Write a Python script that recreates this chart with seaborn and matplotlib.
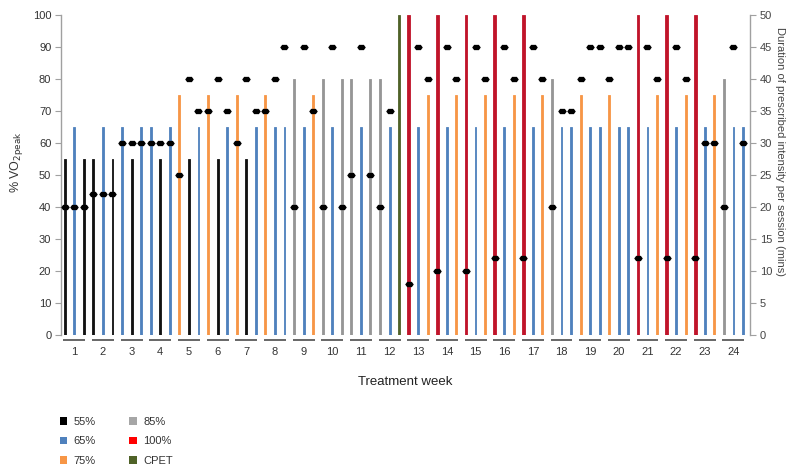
import matplotlib
matplotlib.use("Agg")
import matplotlib.pyplot as plt
from matplotlib.patches import Patch
import pandas as pd
import seaborn as sns

# 24 treatment weeks, 3 sessions per week
weeks = list(range(1, 25))

# Prescribed intensity of every session (week by week)
intensity = [
    "55%", "65%", "55%",    # 1
    "55%", "65%", "55%",    # 2
    "65%", "55%", "65%",    # 3
    "65%", "55%", "65%",    # 4
    "75%", "55%", "65%",    # 5
    "75%", "55%", "65%",    # 6
    "75%", "55%", "65%",    # 7
    "75%", "65%", "65%",    # 8
    "85%", "65%", "75%",    # 9
    "85%", "65%", "85%",    # 10
    "85%", "65%", "85%",    # 11
    "85%", "65%", "CPET",   # 12
    "100%", "65%", "75%",   # 13
    "100%", "65%", "75%",   # 14
    "100%", "65%", "75%",   # 15
    "100%", "65%", "75%",   # 16
    "100%", "65%", "75%",   # 17
    "85%", "65%", "65%",    # 18
    "75%", "65%", "65%",    # 19
    "75%", "65%", "65%",    # 20
    "100%", "65%", "75%",   # 21
    "100%", "65%", "75%",   # 22
    "100%", "65%", "75%",   # 23
    "85%", "65%", "65%",    # 24
]

# Duration at prescribed intensity (mins), None where no dot
duration = [
    20, 20, 20,
    22, 22, 22,
    30, 30, 30,
    30, 30, 30,
    25, 40, 35,
    35, 40, 35,
    30, 40, 35,
    35, 40, 45,
    20, 45, 35,
    20, 45, 20,
    25, 45, 25,
    20, 35, None,
    8, 45, 40,
    10, 45, 40,
    10, 45, 40,
    12, 45, 40,
    12, 45, 40,
    20, 35, 35,
    40, 45, 45,
    40, 45, 45,
    12, 45, 40,
    12, 45, 40,
    12, 30, 30,
    20, 45, 30,
]

# bar height (% VO2peak) drawn for each category
level = {"55%": 55, "65%": 65, "75%": 75, "85%": 80, "100%": 100, "CPET": 100}
legend_order = ["55%", "65%", "75%", "85%", "100%", "CPET"]

bar_colors = {"55%": "#111111", "65%": "#4f81bd", "75%": "#f79646",
              "85%": "#969696", "100%": "#c0142a", "CPET": "#4f6228"}
legend_colors = {"55%": "#000000", "65%": "#4f81bd", "75%": "#f79646",
                 "85%": "#a6a6a6", "100%": "#ff0000", "CPET": "#4f6228"}

df = pd.DataFrame({"session": range(len(intensity)), "intensity": intensity})
df["height"] = df["intensity"].map(level)
df["duration"] = pd.Series(duration, dtype="float")

sns.set_style("white")
plt.rcParams["font.family"] = ["Liberation Sans", "DejaVu Sans"]

fig = plt.figure(figsize=(8, 4.74), dpi=100)
ax = fig.add_axes([61 / 800, 1 - 335 / 474, 689 / 800, 320 / 474])

sns.barplot(data=df, x="session", y="height", hue="intensity", palette=bar_colors,
            hue_order=legend_order, native_scale=True, dodge=False, width=0.2,
            saturation=1, errorbar=None, legend=False, ax=ax)
# outline bars in their own colour so the thin bars stay crisp
red = matplotlib.colors.to_rgba(bar_colors["100%"])
for p in ax.patches:
    fc = p.get_facecolor()
    p.set_edgecolor(fc)
    p.set_linewidth(0.6)
    if all(abs(a - b) < 0.02 for a, b in zip(fc[:3], red[:3])):
        x0 = p.get_x() + p.get_width() / 2
        p.set_width(0.28)
        p.set_x(x0 - 0.14)

ax.set_xlim(-0.39, 71.73)
ax.set_ylim(0, 100)
ax.set_yticks(range(0, 101, 10))
ax.set_xticks([3 * (w - 1) + 1 for w in weeks])
ax.set_xticklabels([str(w) for w in weeks])
ax.tick_params(axis="x", length=0, pad=8.5, labelsize=8, labelcolor="#333333")
ax.tick_params(axis="y", left=True, length=4, width=0.8, color="#a0a0a0",
               labelsize=8, labelcolor="#333333", pad=3)
for s in ["top", "right", "bottom"]:
    ax.spines[s].set_visible(False)
ax.spines["left"].set_color("#a0a0a0")
ax.spines["left"].set_linewidth(1.0)

# week underlines
for w in weeks:
    s0 = 3 * (w - 1)
    ax.plot([s0 - 0.15, s0 + 2.15], [-1.7, -1.7], color="#666666", lw=1.4,
            clip_on=False, solid_capstyle="butt")

ax.set_xlabel("Treatment week", fontsize=9.5, color="#222222", labelpad=14)
ax.set_ylabel(r"% VO$_{\mathrm{2peak}}$", fontsize=9, color="#333333")
ax.yaxis.set_label_coords(-0.052, 0.54)

ax2 = ax.twinx()
hexo = [(-1, 0), (-0.55, 0.62), (0.55, 0.62), (1, 0), (0.55, -0.62), (-0.55, -0.62), (-1, 0)]
sns.scatterplot(data=df.dropna(subset=["duration"]), x="session", y="duration",
                color="black", marker=hexo, s=38, linewidth=0, ax=ax2, zorder=3)
ax2.set_ylim(0, 50)
ax2.set_xlim(-0.39, 71.73)
ax2.set_yticks(range(0, 51, 5))
ax2.tick_params(axis="y", right=True, length=4, width=0.8, color="#a0a0a0",
                labelsize=8, labelcolor="#444444", pad=3)
for s in ["top", "left", "bottom"]:
    ax2.spines[s].set_visible(False)
ax2.spines["right"].set_color("#a0a0a0")
ax2.spines["right"].set_linewidth(1.0)
ax2.set_ylabel("Duration of prescribed intensity per session (mins)", fontsize=8,
               color="#444444", rotation=270, va="bottom")
ax2.yaxis.set_label_coords(1.036, 0.572)

handles = [Patch(facecolor=legend_colors[k], edgecolor="none", label=k) for k in legend_order]
fig.legend(handles=handles, ncol=2, loc="upper left", bbox_to_anchor=(0.068, 0.132),
           frameon=False, fontsize=8, handlelength=0.65, handleheight=0.65,
           handletextpad=0.6, labelspacing=0.85, columnspacing=3.0, borderpad=0,
           labelcolor="#333333")

fig.savefig("out.png", dpi=100)
